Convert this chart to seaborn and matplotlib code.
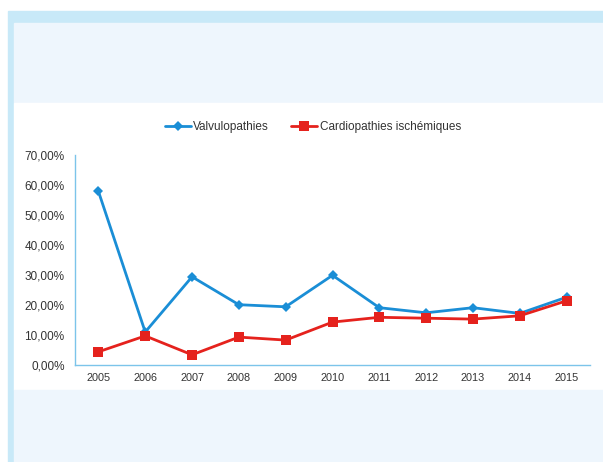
import numpy as np
import pandas as pd
import matplotlib
matplotlib.use("Agg")
import matplotlib.pyplot as plt
from matplotlib.patches import Rectangle
import seaborn as sns

# Data
years = ["2005", "2006", "2007", "2008", "2009", "2010",
         "2011", "2012", "2013", "2014", "2015"]
valvulo = [57.9, 11.0, 29.4, 20.1, 19.4, 29.9, 19.1, 17.4, 19.1, 17.2, 22.6]
cardio = [4.4, 9.7, 3.4, 9.3, 8.3, 14.3, 15.9, 15.6, 15.3, 16.4, 21.4]
series_names = ["Valvulopathies", "Cardiopathies ischémiques"]

df = pd.DataFrame({
    "idx": list(range(len(years))) * 2,
    "value": valvulo + cardio,
    "serie": [series_names[0]] * len(years) + [series_names[1]] * len(years),
})

sns.set_theme(style="white")
plt.rcParams["font.family"] = ["Liberation Sans", "DejaVu Sans"]

W, H = 603, 462
fig = plt.figure(figsize=(W / 100, H / 100), dpi=100)
fig.patch.set_facecolor("white")

# background panels (pixel coords -> figure fraction)
def rect(x0, y0, x1, y1, color):
    fig.patches.append(Rectangle((x0 / W, 1 - y1 / H), (x1 - x0) / W, (y1 - y0) / H,
                                 transform=fig.transFigure, color=color, zorder=-5))

rect(8, 11, W, H, "#c8e9f8")
rect(14, 23, W, 103, "#eef6fd")
rect(14, 103, W, 390, "white")
rect(14, 390, W, H, "#eef6fd")

ax = fig.add_axes([75 / W, (H - 365) / H, (590 - 75) / W, 210 / H])
ax.set_facecolor("white")

palette = {series_names[0]: "#1a8ed6", series_names[1]: "#e5221d"}
sns.lineplot(data=df, x="idx", y="value", hue="serie", style="serie",
             palette=palette, markers={series_names[0]: "D", series_names[1]: "s"},
             dashes=False, linewidth=2, markersize=6, markeredgewidth=0,
             ax=ax, legend=True)
for ln in ax.lines:
    if ln.get_marker() == "D":
        ln.set_markersize(5)
    else:
        ln.set_markersize(7)

ax.set_xlim(-0.5, 10.5)
ax.set_ylim(0, 70)
ax.set_xticks(range(len(years)))
ax.set_xticklabels(years)
yt = np.arange(0, 71, 10)
ax.set_yticks(yt)
ax.set_yticklabels([f"{v:.2f}%".replace(".", ",") for v in yt])
ax.tick_params(axis="both", length=0, colors="#333333")
ax.tick_params(axis="y", pad=7.5, labelsize=8.5)
ax.tick_params(axis="x", pad=6, labelsize=7.8)
ax.set_xlabel("")
ax.set_ylabel("")
for s in ["top", "right"]:
    ax.spines[s].set_visible(False)
for s in ["left", "bottom"]:
    ax.spines[s].set_color("#7cc4ea")
    ax.spines[s].set_linewidth(1)

handles, labels = ax.get_legend_handles_labels()
ax.get_legend().remove()
fig.legend(handles, labels, loc="center", bbox_to_anchor=(313 / W, 1 - 127 / H),
           ncol=2, frameon=False, fontsize=8.5, handlelength=2.2,
           columnspacing=1.9, handletextpad=0.2, labelcolor="#333333")

fig.savefig("out.png", dpi=100, facecolor=fig.get_facecolor())
